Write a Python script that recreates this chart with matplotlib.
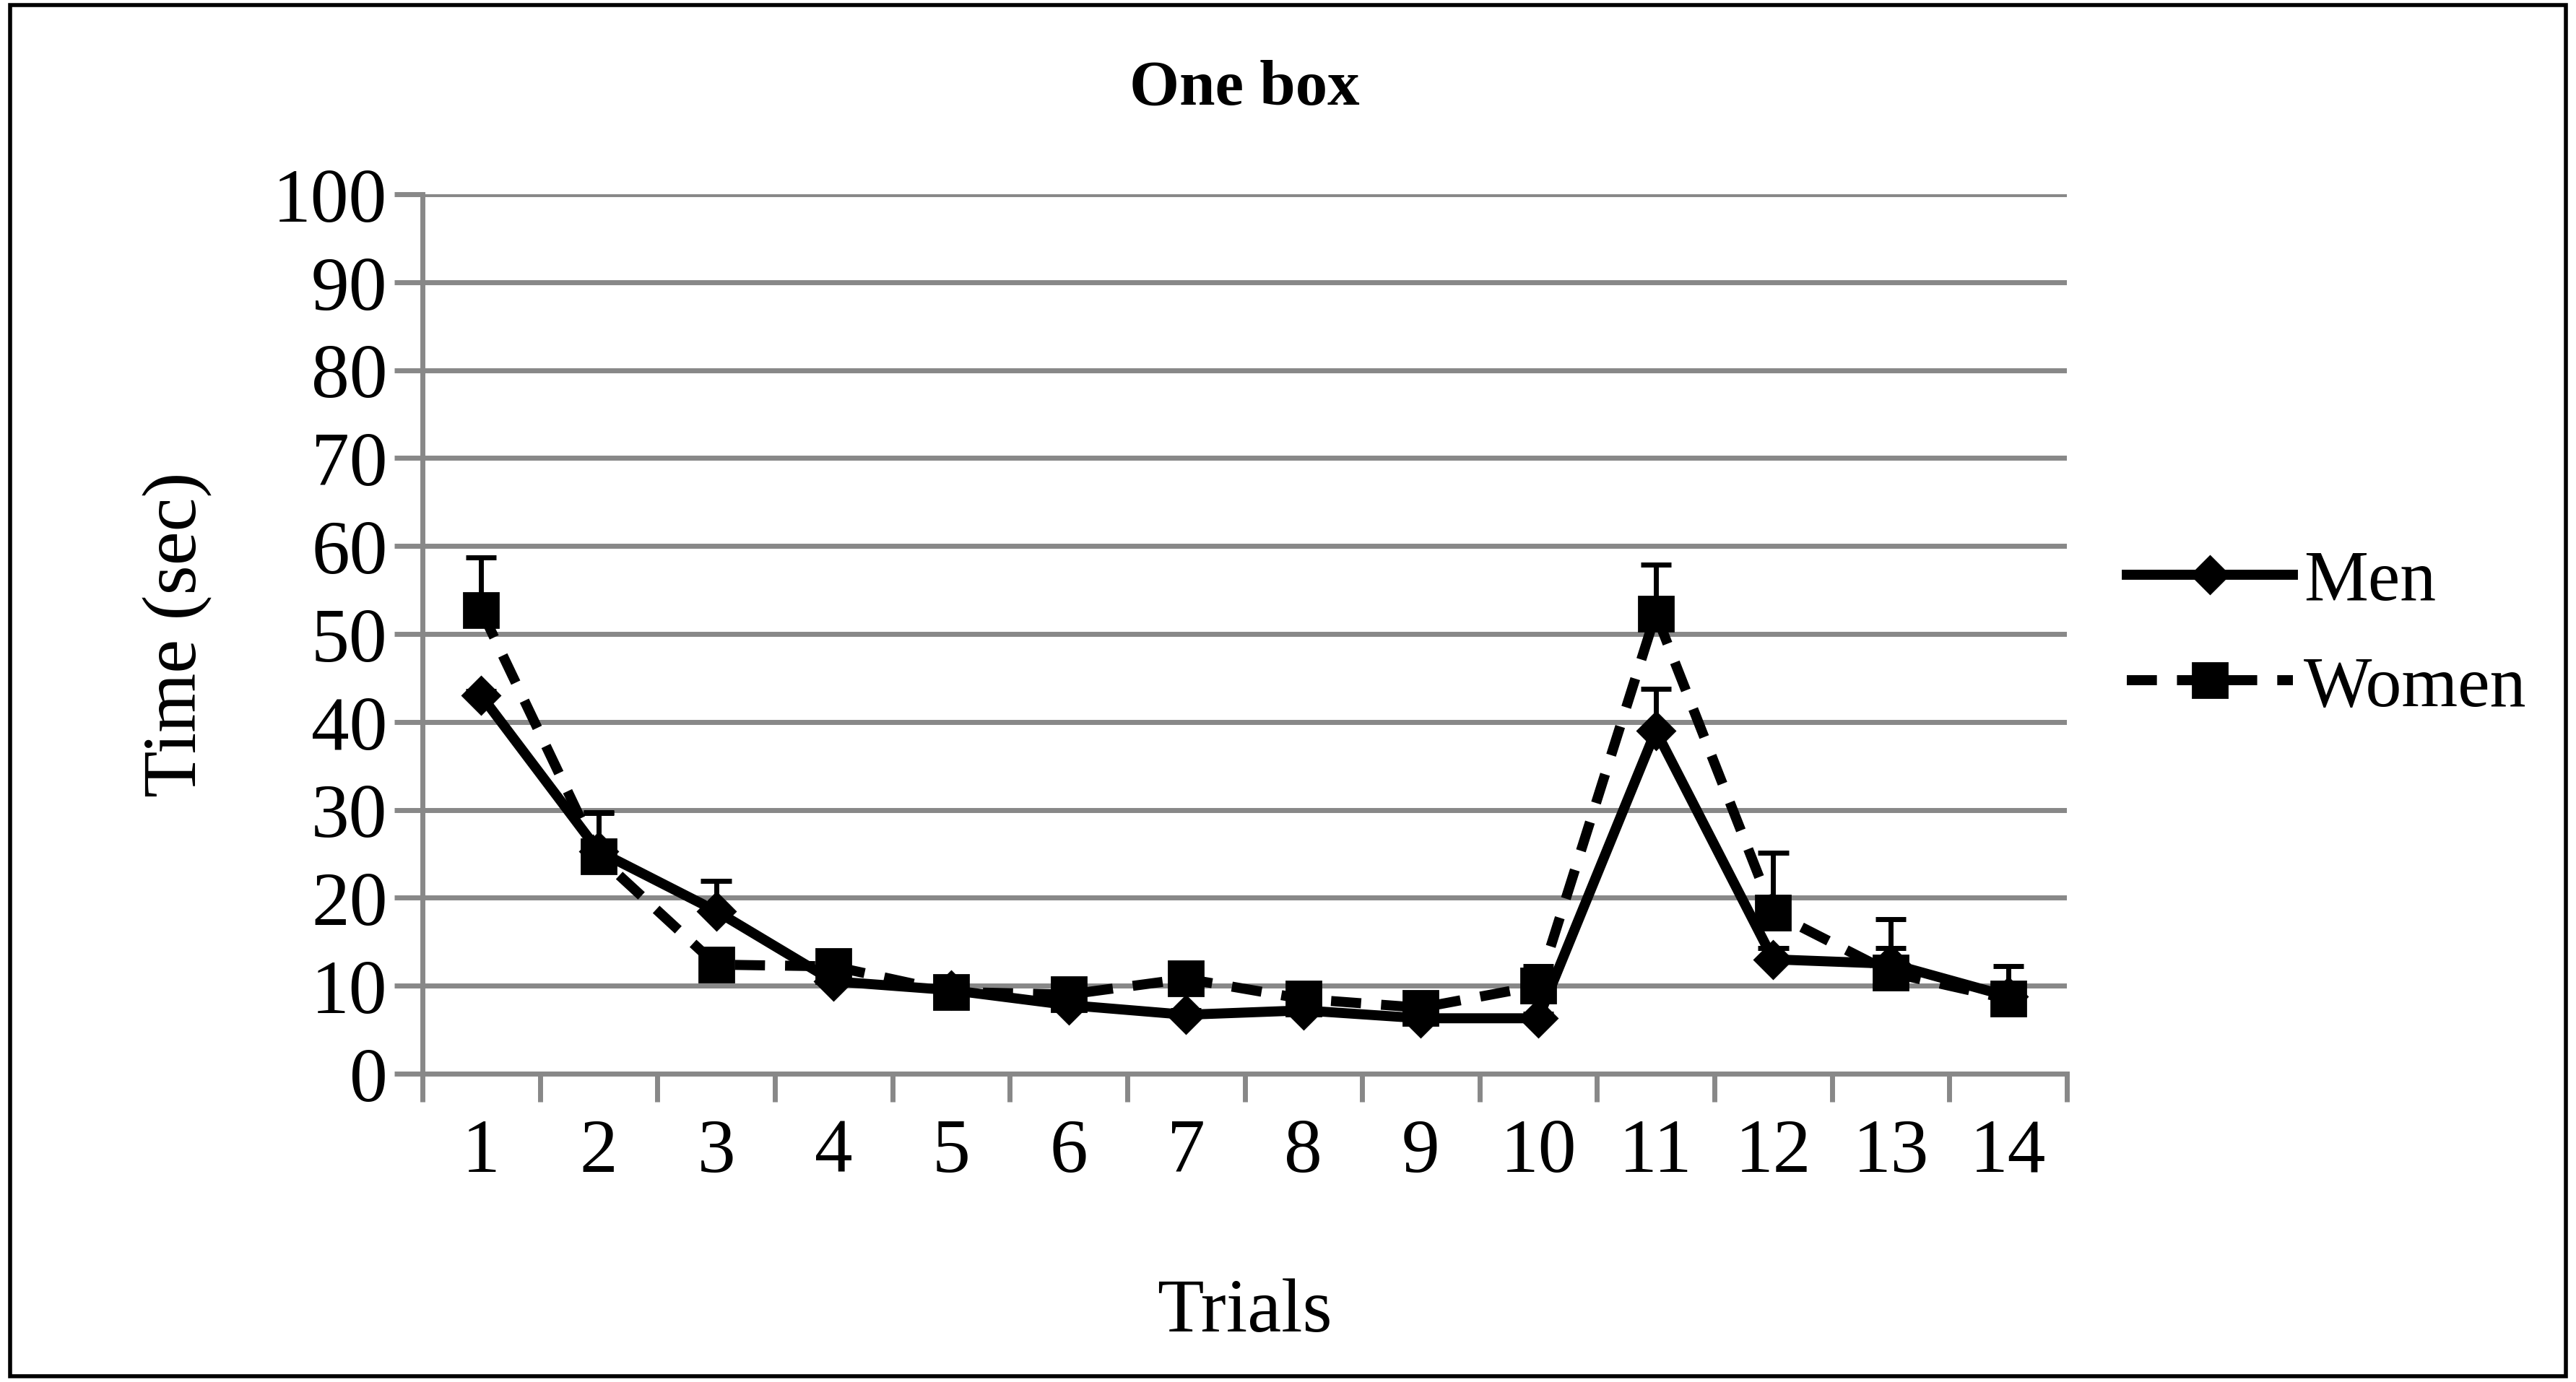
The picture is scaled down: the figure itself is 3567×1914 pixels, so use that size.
import matplotlib
matplotlib.use("Agg")
import matplotlib.pyplot as plt
from matplotlib.lines import Line2D
import numpy as np

trials = list(range(1, 15))
men = [43, 25.3, 18.5, 10.5, 9.5, 7.8, 6.7, 7.2, 6.3, 6.3, 39, 13, 12.5, 8.8]
women = [52.7, 24.7, 12.4, 12.2, 9.3, 9.0, 10.8, 8.5, 7.5, 10.0, 52.3, 18.3, 11.5, 8.5]
men_err = [0.5, 4.3, 3.4, 0.5, 0.5, 0.5, 0.5, 0.5, 0.5, 0.5, 4.8, 1.3, 5.1, 3.4]
women_err = [6.0, 5.0, 0.5, 0.5, 0.5, 0.5, 0.5, 0.5, 0.5, 2.2, 5.6, 6.8, 2.8, 0.5]

plt.rcParams['font.family'] = ['Liberation Serif', 'DejaVu Serif']
fig = plt.figure(figsize=(17.835, 9.575), dpi=200)
ax = fig.add_axes([585/3567, 1-1488/1915, (2862-585)/3567, (1488-270)/1915])

for vals, err in [(men, men_err), (women, women_err)]:
    top = np.array(vals) + np.array(err)
    ax.vlines(trials, vals, top, color='black', lw=2.5, zorder=3)
    ax.hlines(top, np.array(trials) - 0.13, np.array(trials) + 0.13, color='black', lw=2.5, zorder=3)

ax.plot(trials, men, color='black', lw=5, marker='D', ms=13, zorder=4, label='Men')
ax.plot(trials, women, color='black', lw=5, ls=(0, (3, 2)), marker='s', ms=17, zorder=4, label='Women')

ax.set_xlim(0.5, 14.5)
ax.set_ylim(0, 100)
ax.set_yticks(range(0, 101, 10))
ax.set_xticks(trials)
ax.set_xticks(np.arange(0.5, 15, 1), minor=True)
ax.tick_params(axis='x', which='major', length=0, labelsize=38, pad=22)
ax.tick_params(axis='x', which='minor', length=14, width=2.5, color='#888888', direction='out')
ax.tick_params(axis='y', labelsize=38, length=14, width=2.5, color='#888888', direction='out')
ax.grid(axis='y', color='#888888', lw=2.5)
ax.set_axisbelow(True)
for s in ['top', 'right']:
    ax.spines[s].set_visible(False)
for s in ['left', 'bottom']:
    ax.spines[s].set_color('#888888')
    ax.spines[s].set_linewidth(2.5)

ax.set_title('One box', fontsize=32, fontweight='bold', pad=45)
ax.set_xlabel('Trials', fontsize=38, labelpad=45)
ax.set_ylabel('Time (sec)', fontsize=38, labelpad=30)

h = [Line2D([], [], color='black', lw=5, marker='D', ms=13),
     Line2D([], [], color='black', lw=5, ls=(0, (3, 2)), marker='s', ms=17)]
fig.legend(h, ['Men', 'Women'], loc='center left', bbox_to_anchor=(2945/3567, 1-880/1915),
           frameon=False, fontsize=36, handlelength=2.3, labelspacing=0.55, handletextpad=0.15,
           borderaxespad=0, borderpad=0)

fig.patches.append(plt.Rectangle((0.004, 0.004), 0.992, 0.992, transform=fig.transFigure,
                                 fill=False, edgecolor='black', lw=2))
fig.savefig('out.png', dpi=200)
